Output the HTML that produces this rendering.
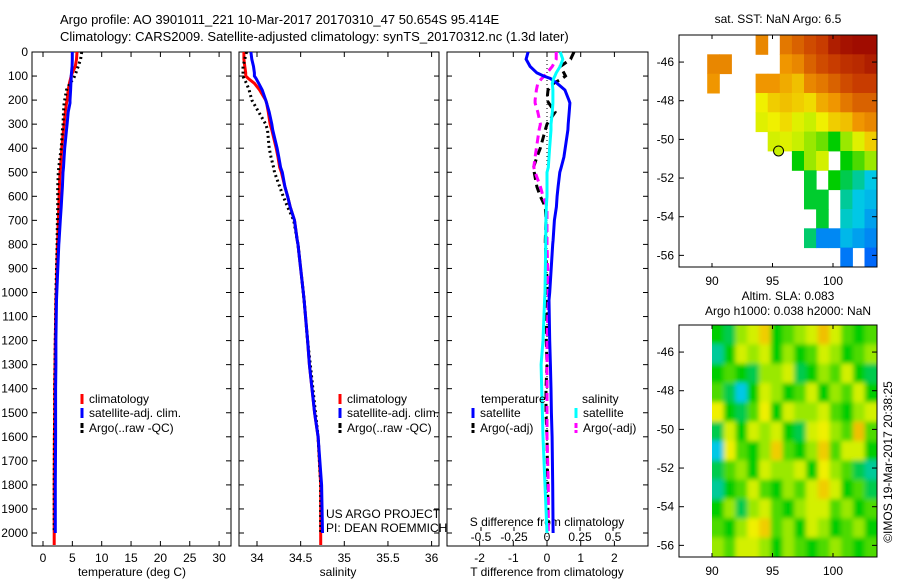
<!DOCTYPE html>
<html><head><meta charset="utf-8"><style>
body{margin:0;background:#fff;}
svg{display:block;font-family:"Liberation Sans",sans-serif;}
text{fill:#000;}
</style></head><body>
<svg id="c" width="900" height="580" viewBox="0 0 900 580">
<defs>
<filter id="blur" x="-5%" y="-5%" width="110%" height="110%"><feGaussianBlur stdDeviation="2.5"/></filter>
<clipPath id="slaclip"><rect x="712" y="325" width="165" height="232"/></clipPath>
</defs>
<text x="60" y="24" font-size="13">Argo profile: AO 3901011_221 10-Mar-2017 20170310_47 50.654S 95.414E</text>
<text x="60" y="41" font-size="13">Climatology: CARS2009. Satellite-adjusted climatology: synTS_20170312.nc (1.3d later)</text>
<text x="778" y="23" font-size="12" text-anchor="middle">sat. SST: NaN Argo: 6.5</text>
<text x="788" y="300" font-size="12" text-anchor="middle">Altim. SLA: 0.083</text>
<text x="788" y="315" font-size="12" text-anchor="middle">Argo h1000: 0.038 h2000: NaN</text>
<text transform="translate(892,462) rotate(-90)" font-size="12" text-anchor="middle">©IMOS 19-Mar-2017 20:38:25</text>
</svg>
<script>
// ---- data ----
const depths=[0,30,60,87,100,110,130,158,200,212,250,300,324,400,437,480,500,560,600,644,700,782,800,1000,1031,1200,1300,1400,1500,1600,1800,2000];
const tempClim=[5.8,5.7,5.5,5.0,4.8,4.7,4.5,4.3,4.1,4.0,3.8,3.6,3.5,3.2,3.1,3.0,2.9,2.8,2.75,2.7,2.6,2.5,2.45,2.25,2.2,2.1,2.05,2.0,2.0,1.95,1.9,1.9];
const tempSat=[5.0,5.0,4.95,4.85,4.8,4.8,4.75,4.7,4.6,4.6,4.3,4.1,4.0,3.7,3.6,3.5,3.4,3.3,3.2,3.1,2.95,2.75,2.7,2.35,2.3,2.2,2.2,2.15,2.15,2.15,2.1,2.1];
const tempArgo=[6.6,6.4,6.0,5.6,5.4,5.2,4.6,4.0,3.7,3.6,3.5,3.4,3.3,3.1,2.9,2.7,2.6,2.5,2.5,2.5,2.45,2.4,2.4,2.2,2.2,2.1,2.05,2.0,2.0,1.95,1.9,1.9];
const salClim=[33.85,33.85,33.86,33.87,33.87,33.9,33.97,34.03,34.1,34.11,34.13,34.15,34.17,34.22,34.24,34.26,34.28,34.32,34.35,34.38,34.43,34.46,34.47,34.53,34.54,34.58,34.6,34.63,34.66,34.7,34.73,34.73];
const salSat=[33.93,33.94,33.96,33.97,33.97,33.99,34.02,34.06,34.1,34.11,34.14,34.17,34.18,34.23,34.25,34.27,34.29,34.32,34.35,34.38,34.43,34.46,34.47,34.53,34.54,34.58,34.6,34.63,34.66,34.7,34.74,34.75];
const salArgo=[33.88,33.86,33.84,33.84,33.84,33.85,33.88,33.91,33.94,33.96,34.02,34.1,34.12,34.14,34.16,34.19,34.2,34.26,34.3,34.35,34.42,34.46,34.47,34.53,34.54,34.58,34.61,34.64,34.67,34.7,34.73,34.73];
const dTSat=[-0.56,-0.62,-0.5,-0.3,-0.1,0.1,0.3,0.53,0.65,0.68,0.66,0.63,0.62,0.54,0.5,0.42,0.38,0.33,0.3,0.28,0.22,0.18,0.17,0.08,0.06,0.08,0.1,0.12,0.13,0.15,0.17,0.18];
const dSSat=[0.1,0.12,0.1,0.07,0.06,0.05,0.04,0.045,0.045,0.045,0.04,0.03,0.03,0.02,0.015,0.01,0.0,0.0,0.0,-0.005,-0.008,-0.01,-0.01,-0.015,-0.018,-0.03,-0.045,-0.04,-0.035,-0.03,-0.015,0.0];
const dTArgo=[0.8,0.7,0.4,0.5,0.55,0.45,0.2,0.03,0.0,0.05,0.24,0.0,-0.05,-0.2,-0.3,-0.4,-0.38,-0.3,-0.2,-0.05,-0.03,-0.05,-0.05,0.02,0.0,-0.02,0.0,-0.03,-0.03,0.0,0.02,0.03];
const dSArgo=[0.07,0.07,0.04,0.0,-0.02,-0.04,-0.07,-0.08,-0.09,-0.09,-0.07,-0.05,-0.06,-0.08,-0.09,-0.1,-0.09,-0.05,-0.03,0.0,0.0,0.0,0.0,0.01,0.01,0.0,0.0,0.0,0.0,0.0,0.01,0.01];
const depthTicks=[0,100,200,300,400,500,600,700,800,900,1000,1100,1200,1300,1400,1500,1600,1700,1800,1900,2000];
const tempTicks=[0,5,10,15,20,25,30];
const salTicks=[34,34.5,35,35.5,36];
const dTTicks=[-2,-1,0,1,2];
const dSTicks=[-0.5,-0.25,0,0.25,0.5];
const sstLonTicks=[90,95,100];
const latTicks=[-46,-48,-50,-52,-54,-56];
const N=null;
const sstGrid=[
[N,N,N,N,N,N,.8,N,.82,.85,.88,.9,.95,.97,.98,.98],
[N,N,.8,.8,N,N,N,N,.78,.8,.85,.88,.9,.92,.93,.95],
[N,N,.78,N,N,N,.78,.78,.75,.72,.8,.82,.85,.88,.9,.9],
[N,N,N,N,N,N,.65,.7,.72,.7,.68,.75,.78,.82,.85,.85],
[N,N,N,N,N,N,.62,.65,.68,.62,.58,.65,.7,.72,.78,.8],
[N,N,N,N,N,N,N,.6,.62,.58,.55,.52,.45,.55,.62,.7],
[N,N,N,N,N,N,N,N,N,.45,.55,.6,N,.45,.5,.55],
[N,N,N,N,N,N,N,N,N,N,.42,N,.45,.4,.35,.3],
[N,N,N,N,N,N,N,N,N,N,.42,.42,N,.35,.3,.28],
[N,N,N,N,N,N,N,N,N,N,N,.42,N,.32,.3,.25],
[N,N,N,N,N,N,N,N,N,N,.38,.22,.22,.28,.25,.22],
[N,N,N,N,N,N,N,N,N,N,N,N,N,.2,N,.18]];
const slaGrid=[
[.45,.4,.55,.6,.7,.45,.5,.55,.6,.72,.6,.5,.45,.5],
[.35,.45,.6,.55,.6,.45,.55,.45,.5,.6,.55,.45,.5,.55],
[.45,.5,.45,.4,.55,.55,.6,.4,.45,.55,.5,.6,.45,.4],
[.5,.4,.3,.45,.6,.55,.45,.5,.6,.45,.55,.5,.6,.45],
[.65,.45,.4,.5,.65,.45,.6,.55,.55,.6,.5,.45,.55,.6],
[.4,.6,.45,.6,.55,.6,.45,.4,.6,.65,.55,.5,.72,.5],
[.3,.65,.5,.45,.55,.7,.5,.45,.55,.7,.5,.6,.6,.45],
[.4,.5,.55,.45,.6,.55,.55,.6,.45,.65,.55,.5,.4,.35],
[.35,.45,.5,.6,.5,.45,.55,.5,.6,.7,.6,.45,.5,.4],
[.45,.55,.4,.55,.6,.5,.45,.55,.6,.6,.5,.55,.45,.5],
[.5,.45,.55,.65,.7,.5,.55,.45,.6,.55,.45,.5,.55,.45],
[.55,.5,.6,.6,.55,.45,.55,.5,.45,.5,.55,.5,.45,.5]];
const argoLon=95.5, argoLat=-50.6;

// ---- drawing ----
const S=document.getElementById('c'),NS='http://www.w3.org/2000/svg';
function el(t,a,txt,parent){const e=document.createElementNS(NS,t);for(const k in a)e.setAttribute(k,a[k]);if(txt!==undefined&&txt!==null)e.textContent=txt;(parent||S).appendChild(e);return e;}
const yD=d=>52+d*0.2405;
const PT={l:32,r:231,x:v=>43+v*5.87};
const PS={l:239,r:439,x:v=>257+(v-34)*87.3};
const PD={l:447,r:648,x:v=>547+v*33.7,xs:v=>547+v*132};
const yTop=52,yBot=546;
function frame(P,name){
 const f=el('rect',{x:P.l,y:yTop,width:P.r-P.l,height:yBot-yTop,fill:'none',stroke:'#000','stroke-width':1});
 
 
 depthTicks.forEach(d=>{const y=yD(d);el('line',{x1:P.l,x2:P.l+5,y1:y,y2:y,stroke:'#000'});el('line',{x1:P.r,x2:P.r-5,y1:y,y2:y,stroke:'#000'});});
}
function line(P,xf,vals,color,w,dash,name,toBottom){
 let pts=vals.map((v,i)=>xf(v).toFixed(1)+','+yD(depths[i]).toFixed(1));
 if(toBottom)pts.push(xf(vals[vals.length-1]).toFixed(1)+','+(yBot-1));
 const a={points:pts.join(' '),fill:'none',stroke:color,'stroke-width':w};if(dash)a['stroke-dasharray']=dash;
 const p=el('polyline',a);
 
 
}
function xticks(P,xf,ticks,name){
 ticks.forEach(t=>{const x=xf(t);el('line',{x1:x,x2:x,y1:yBot,y2:yBot-5,stroke:'#000'});el('line',{x1:x,x2:x,y1:yTop,y2:yTop+5,stroke:'#000'});
 const tx=el('text',{x:x,y:yBot+16,'font-size':12,'text-anchor':'middle'},String(t));
 
 });
}
depthTicks.forEach(d=>{const t=el('text',{x:28,y:yD(d)+4,'font-size':12,'text-anchor':'end'},String(d));
 
 });
frame(PT,'temperature-panel');xticks(PT,PT.x,tempTicks,'temperature-tick-label');
line(PT,PT.x,tempClim,'#f00',3,null,'temp-climatology-line',true);
line(PT,PT.x,tempArgo,'#000',3,'2,3','temp-argo-line');
line(PT,PT.x,tempSat,'#00f',3,null,'temp-satellite-line');
frame(PS,'salinity-panel');xticks(PS,PS.x,salTicks,'salinity-tick-label');
line(PS,PS.x,salClim,'#f00',3,null,'sal-climatology-line',true);
line(PS,PS.x,salArgo,'#000',3,'2,3','sal-argo-line');
line(PS,PS.x,salSat,'#00f',3,null,'sal-satellite-line');
frame(PD,'difference-panel');xticks(PD,PD.x,dTTicks,'t-diff-tick-label');
el('line',{x1:PD.x(0),x2:PD.x(0),y1:yTop,y2:yBot,stroke:'#000','stroke-dasharray':'1,3'});
dSTicks.forEach(t=>{const x=PD.xs(t);el('line',{x1:x,x2:x,y1:531,y2:527,stroke:'#000'});
 const tx=el('text',{x:x,y:541,'font-size':12,'text-anchor':'middle'},String(t));
 
 });
el('text',{x:547,y:526,'font-size':12,'text-anchor':'middle'},'S difference from climatology');
line(PD,PD.x,dTArgo,'#000',3,'8,5','dT-argo-line');
line(PD,PD.xs,dSArgo,'#f0f',3,'8,5','dS-argo-line');
line(PD,PD.x,dTSat,'#00f',3,null,'dT-satellite-line');
line(PD,PD.xs,dSSat,'#0ff',3,null,'dS-satellite-line');
el('text',{x:132,y:576,'font-size':12,'text-anchor':'middle'},'temperature (deg C)');
el('text',{x:338,y:576,'font-size':12,'text-anchor':'middle'},'salinity');
el('text',{x:547,y:576,'font-size':12,'text-anchor':'middle'},'T difference from climatology');
function leg(x,y,c,txt,dash){const m=el('line',{x1:x,x2:x,y1:y-9,y2:y+1,stroke:c,'stroke-width':3});if(dash)m.setAttribute('stroke-dasharray',dash);
 const t=el('text',{x:x+7,y:y,'font-size':12},txt);
 
 }
leg(82,403,'#f00','climatology');leg(82,417,'#00f','satellite-adj. clim.');leg(82,432,'#000','Argo(..raw -QC)','5,2');
leg(340,403,'#f00','climatology');leg(340,417,'#00f','satellite-adj. clim.');leg(340,432,'#000','Argo(..raw -QC)','5,2');
el('text',{x:481,y:403,'font-size':12},'temperature');el('text',{x:582,y:403,'font-size':12},'salinity');
leg(473,417,'#00f','satellite');leg(473,432,'#000','Argo(-adj)','5,2');
leg(576,417,'#0ff','satellite');leg(576,432,'#f0f','Argo(-adj)','5,2');
el('text',{x:326,y:518,'font-size':12},'US ARGO PROJECT');
el('text',{x:326,y:532,'font-size':12},'PI: DEAN ROEMMICH');
const stops=[[0,[0,0,160]],[.15,[0,80,255]],[.3,[0,200,230]],[.45,[0,205,0]],[.58,[200,240,0]],[.65,[240,240,0]],[.78,[240,150,0]],[.9,[200,60,0]],[1,[150,0,0]]];
function cmap(v){for(let i=1;i<stops.length;i++){if(v<=stops[i][0]){const a=stops[i-1],b=stops[i],f=(v-a[0])/(b[0]-a[0]);return 'rgb('+a[1].map((c,k)=>Math.round(c+(b[1][k]-c)*f)).join(',')+')';}}return 'rgb(150,0,0)';}
const mx=lon=>712+(lon-90)*12.1;
function map(y0,grid,lon0,dlon,name,smooth){
 const my=lat=>y0+(-44.6-lat)*19.33;
 let parent=S;
 if(smooth){const outer=el('g',{'clip-path':'url(#slaclip)'});parent=el('g',{filter:'url(#blur)'},null,outer);}
 const nr=grid.length,nc=grid[0].length;
 grid.forEach((row,r)=>row.forEach((v,c)=>{if(v===null)return;
  let x1=mx(lon0+c*dlon),x2=mx(lon0+(c+1)*dlon)+0.5,ya=my(-44.6-r),yb=my(-45.6-r)+0.5;
  if(smooth){if(c===0)x1-=12;if(c===nc-1)x2+=12;if(r===0)ya-=12;if(r===nr-1)yb+=12;}
  const cell=el('rect',{x:x1.toFixed(1),y:ya.toFixed(1),width:(x2-x1).toFixed(1),height:(yb-ya).toFixed(1),fill:cmap(v)},null,parent);
  
  }));
 const f=el('rect',{x:679,y:y0,width:198,height:232,fill:'none',stroke:'#000'});
 
 
 latTicks.forEach(l=>{const y=my(l);el('line',{x1:679,x2:684,y1:y,y2:y,stroke:'#000'});el('line',{x1:877,x2:872,y1:y,y2:y,stroke:'#000'});
  const t=el('text',{x:674,y:y+4,'font-size':12,'text-anchor':'end'},String(l));
  
  });
 sstLonTicks.forEach(l=>{const x=mx(l);el('line',{x1:x,x2:x,y1:y0,y2:y0+4,stroke:'#000'});el('line',{x1:x,x2:x,y1:y0+232,y2:y0+228,stroke:'#000'});
  const t=el('text',{x:x,y:y0+250,'font-size':12,'text-anchor':'middle'},String(l));
  
  });
 return my;
}
const my1=map(35,sstGrid,87.6,1,'sst-map',false);
map(325,slaGrid,90,0.971,'sla-map',true);
const pt=el('circle',{cx:mx(argoLon),cy:my1(argoLat),r:5,fill:'#c8f000',stroke:'#000'});


</script>
</body></html>
